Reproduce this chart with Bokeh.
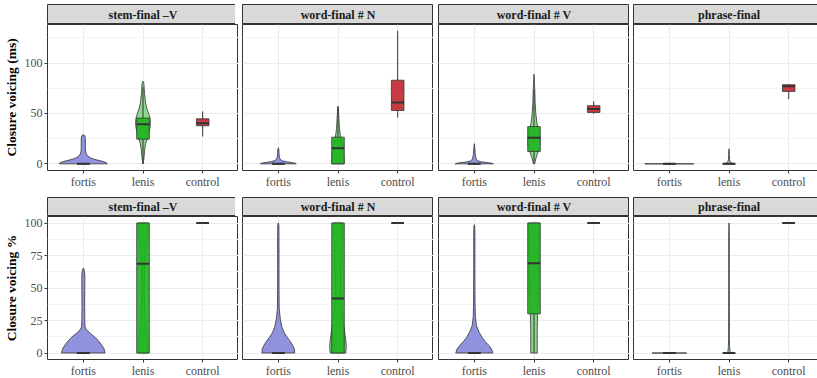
from bokeh.plotting import figure
from bokeh.layouts import gridplot
from bokeh.models import FixedTicker, Range1d, ColumnDataSource
from bokeh.embed import file_html
from bokeh.resources import INLINE
from bokeh.core.properties import value

categories = ["fortis", "lenis", "control"]
facets = ["stem-final –V", "word-final # N", "word-final # V", "phrase-final"]
y_titles = ["Closure voicing (ms)", "Closure voicing %"]
ms_ticks = [0, 50, 100]
ms_minor = [25, 75, 125]
pct_ticks = [0, 25, 50, 75, 100]
pct_minor = [12.5, 37.5, 62.5, 87.5]

# ---- box statistics: [lower whisker, q1, median, q3, upper whisker] for fortis, lenis, control
ms_box_stem = [[0, 0, 0, 0, 0], [0, 24.5, 39.4, 45.4, 76], [27.2, 37.8, 40.4, 44.7, 52]]
ms_box_wn = [[0, 0, 0, 0, 0], [0, 0, 15.6, 26.5, 57], [46, 53, 61, 83, 132]]
ms_box_wv = [[0, 0, 0, 0, 0], [0, 12.3, 26, 37, 74], [49.7, 51, 54.5, 57.7, 62]]
ms_box_phr = [[0, 0, 0, 0, 0], [0, 0, 0, 0, 0], [64.3, 71.9, 77, 78.5, 79]]

pct_box_stem = [[0, 0, 0, 0, 0], [0, 0, 68.6, 100, 100], [100, 100, 100, 100, 100]]
pct_box_wn = [[0, 0, 0, 0, 0], [0, 0, 42, 100, 100], [100, 100, 100, 100, 100]]
pct_box_wv = [[0, 0, 0, 0, 0], [0, 30.1, 69.1, 100, 100], [100, 100, 100, 100, 100]]
pct_box_phr = [[0, 0, 0, 0, 0], [0, 0, 0, 0, 0], [100, 100, 100, 100, 100]]

# ---- violin profiles: (y values, half width in category units)
ms_vio_stem = {
    "fortis": ([0, 1, 2, 3, 4, 5, 6, 8, 10, 12, 15, 20, 25, 28, 29],
               [0.40, 0.39, 0.35, 0.29, 0.22, 0.16, 0.12, 0.07, 0.05, 0.04, 0.035, 0.035, 0.035, 0.025, 0]),
    "lenis": ([0, 3, 8, 15, 20, 25, 30, 35, 40, 45, 50, 55, 60, 65, 70, 75, 80, 82],
              [0, 0.01, 0.02, 0.03, 0.045, 0.07, 0.095, 0.115, 0.125, 0.12, 0.095, 0.065, 0.045, 0.035, 0.025, 0.02, 0.015, 0]),
}
ms_vio_wn = {
    "fortis": ([0, 0.5, 1, 2, 3, 4, 6, 10, 14, 16],
               [0.30, 0.29, 0.25, 0.14, 0.07, 0.04, 0.02, 0.012, 0.01, 0]),
    "lenis": ([0, 5, 10, 15, 20, 25, 30, 35, 40, 45, 50, 55, 57],
              [0.10, 0.10, 0.095, 0.085, 0.07, 0.05, 0.035, 0.025, 0.02, 0.015, 0.01, 0.006, 0]),
}
ms_vio_wv = {
    "fortis": ([0, 0.5, 1, 2, 3, 4, 6, 10, 15, 20],
               [0.32, 0.30, 0.25, 0.12, 0.06, 0.04, 0.025, 0.015, 0.01, 0]),
    "lenis": ([0, 5, 10, 15, 20, 25, 30, 35, 40, 50, 60, 75, 89],
              [0.01, 0.03, 0.06, 0.08, 0.10, 0.10, 0.09, 0.07, 0.05, 0.03, 0.02, 0.012, 0]),
}
ms_vio_phr = {
    "fortis": ([0, 0], [0.41, 0.41]),
    "lenis": ([0, 0.5, 1, 2, 4, 8, 12, 15],
              [0.10, 0.07, 0.04, 0.02, 0.01, 0.007, 0.005, 0]),
}
pct_vio_stem = {
    "fortis": ([0, 3, 6, 9, 12, 15, 18, 20, 25, 35, 50, 60, 64, 65.3],
               [0.365, 0.35, 0.31, 0.26, 0.20, 0.12, 0.05, 0.03, 0.025, 0.022, 0.025, 0.025, 0.015, 0]),
    "lenis": ([0, 10, 30, 50, 70, 90, 100],
              [0.09, 0.07, 0.03, 0.02, 0.03, 0.07, 0.09]),
}
pct_vio_wn = {
    "fortis": ([0, 3, 6, 9, 12, 16, 20, 26, 34, 50, 80, 98, 100],
               [0.275, 0.27, 0.24, 0.20, 0.15, 0.095, 0.06, 0.034, 0.015, 0.012, 0.012, 0.01, 0]),
    "lenis": ([0, 5, 10, 20, 30, 40, 60, 80, 90, 100],
              [0.13, 0.14, 0.13, 0.10, 0.07, 0.05, 0.05, 0.06, 0.07, 0.08]),
}
pct_vio_wv = {
    "fortis": ([0, 3, 6, 9, 12, 16, 21, 28, 40, 60, 90, 97, 98.7],
               [0.31, 0.29, 0.24, 0.18, 0.13, 0.08, 0.036, 0.018, 0.012, 0.01, 0.01, 0.008, 0]),
    "lenis": ([0, 10, 20, 30, 40, 60, 80, 100],
              [0.055, 0.055, 0.055, 0.06, 0.07, 0.08, 0.08, 0.09]),
}
pct_vio_phr = {
    "fortis": ([0, 0], [0.29, 0.29]),
    "lenis": ([0, 2, 5, 10, 30, 60, 90, 100],
              [0.025, 0.015, 0.01, 0.007, 0.006, 0.005, 0.005, 0]),
}

rows = [
    dict(title=y_titles[0], ticks=ms_ticks, minor=ms_minor, yr=(-6.6, 138.3),
         boxes=[ms_box_stem, ms_box_wn, ms_box_wv, ms_box_phr],
         vios=[ms_vio_stem, ms_vio_wn, ms_vio_wv, ms_vio_phr]),
    dict(title=y_titles[1], ticks=pct_ticks, minor=pct_minor, yr=(-5, 105),
         boxes=[pct_box_stem, pct_box_wn, pct_box_wv, pct_box_phr],
         vios=[pct_vio_stem, pct_vio_wn, pct_vio_wv, pct_vio_phr]),
]

vio_fill = {"fortis": "#9192dd", "lenis": "#8fd68f", "control": "#e08a8d"}
box_fill = {"fortis": "#7b7bd9", "lenis": "#1db41d", "control": "#c1272d"}

FONT = "Liberation Serif"
FW = [191, 191, 191, 187]
LEFT = [44, 4, 5, 4]
UNIT_PX = 191 / 3.2
BOX_HW = 0.105

strip_rows_top = [4, 0]
strip_h = [20, 19]
frame_h = [146, 143]
bottom_b = [27, 17]

grid_children = []
for r, row in enumerate(rows):
    strips = []
    panels = []
    for f in range(4):
        s = figure(frame_width=FW[f], frame_height=strip_h[r], x_range=Range1d(0, FW[f] / 191),
                   y_range=Range1d(0, 1), toolbar_location=None, output_backend="svg",
                   x_axis_location=None, y_axis_location=None,
                   min_border_left=LEFT[f], min_border_right=0,
                   min_border_top=strip_rows_top[r], min_border_bottom=0,
                   background_fill_color="#d9d9d9", outline_line_color="#333333",
                   border_fill_color="white")
        s.xgrid.visible = False
        s.ygrid.visible = False
        s.text(x=[0.5], y=[0.5], text=[facets[f]], text_align="center", text_baseline="middle",
               text_font=value(FONT), text_font_style="bold", text_font_size="12px",
               text_color="#1a1a1a")
        strips.append(s)

        p = figure(frame_width=FW[f], frame_height=frame_h[r],
                   x_range=Range1d(0.4, 0.4 + FW[f] / UNIT_PX), y_range=Range1d(*row["yr"]),
                   toolbar_location=None, output_backend="svg",
                   y_axis_location="left" if f == 0 else None,
                   min_border_left=LEFT[f], min_border_right=0,
                   min_border_top=0, min_border_bottom=bottom_b[r],
                   background_fill_color="white", outline_line_color="#333333",
                   border_fill_color="white")
        p.xaxis.ticker = FixedTicker(ticks=[1, 2, 3])
        p.xaxis.major_label_overrides = {i + 1: c for i, c in enumerate(categories)}
        if f == 0:
            p.yaxis.ticker = FixedTicker(ticks=row["ticks"], minor_ticks=row["minor"])
        p.xgrid.ticker = FixedTicker(ticks=[1, 2, 3])
        p.ygrid.ticker = FixedTicker(ticks=row["ticks"], minor_ticks=row["minor"])
        for ax in p.axis:
            ax.axis_line_color = None
            ax.major_tick_line_color = "#333333"
            ax.major_tick_out = 3
            ax.major_tick_in = 0
            ax.minor_tick_line_color = None
            ax.major_label_text_font = FONT
            ax.major_label_text_font_size = "12px"
            ax.major_label_text_color = "#4d4d4d"
            ax.major_label_standoff = 1
        if f == 0:
            p.yaxis.axis_label = row["title"]
            p.yaxis.axis_label_text_font = FONT
            p.yaxis.axis_label_text_font_style = "bold"
            p.yaxis.axis_label_text_font_size = "13.5px"
            p.yaxis.axis_label_text_color = "black"
            p.yaxis.axis_label_standoff = 3
        p.xgrid.grid_line_color = "#ebebeb"
        p.ygrid.grid_line_color = "#ebebeb"
        p.ygrid.minor_grid_line_color = "#f4f4f4"

        # violins
        xs, ys, fills = [], [], []
        for i, cat in enumerate(categories):
            if cat not in row["vios"][f]:
                continue
            vy, vw = row["vios"][f][cat]
            x0 = i + 1
            xs.append([x0 + w for w in vw] + [x0 - w for w in reversed(vw)])
            ys.append(list(vy) + list(reversed(vy)))
            fills.append(vio_fill[cat])
        p.patches(xs="xs", ys="ys", fill_color="fills", line_color="#333333", line_width=0.8,
                  source=ColumnDataSource(dict(xs=xs, ys=ys, fills=fills)))

        # boxes
        st = row["boxes"][f]
        cx = [i + 1 for i in range(3)]
        lo = [b[0] for b in st]
        q1 = [b[1] for b in st]
        md = [b[2] for b in st]
        q3 = [b[3] for b in st]
        hi = [b[4] for b in st]
        bsrc = ColumnDataSource(dict(x=cx, left=[x - BOX_HW for x in cx], right=[x + BOX_HW for x in cx],
                                     lo=lo, q1=q1, md=md, q3=q3, hi=hi,
                                     fill=[box_fill[c] for c in categories]))
        p.segment(x0="x", y0="q3", x1="x", y1="hi", line_color="#333333", line_width=1, source=bsrc)
        p.segment(x0="x", y0="lo", x1="x", y1="q1", line_color="#333333", line_width=1, source=bsrc)
        p.quad(left="left", right="right", bottom="q1", top="q3", fill_color="fill", fill_alpha=0.9,
               line_color="#333333", line_width=0.8, source=bsrc)
        p.segment(x0="left", y0="md", x1="right", y1="md", line_color="#333333", line_width=2, source=bsrc)
        panels.append(p)
    grid_children.append(strips)
    grid_children.append(panels)

layout = gridplot(grid_children, toolbar_location=None)

open("out.html", "w").write(file_html(layout, INLINE))
